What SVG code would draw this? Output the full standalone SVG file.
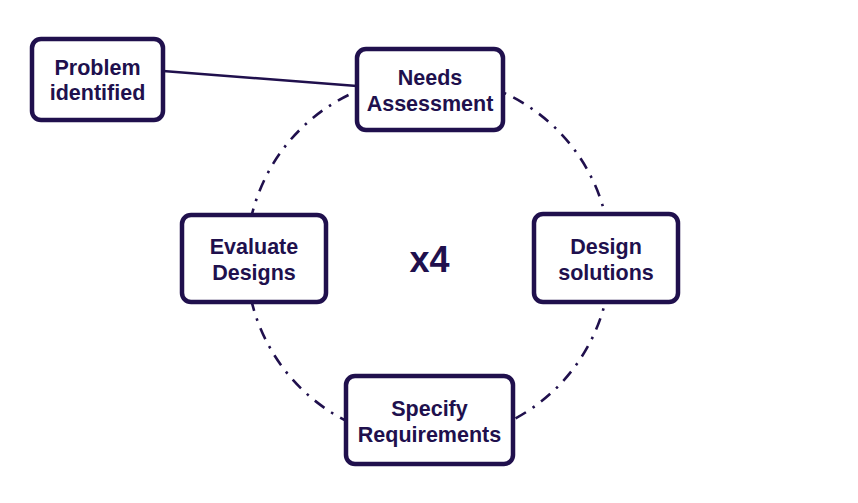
<svg xmlns="http://www.w3.org/2000/svg" width="858" height="503" viewBox="0 0 858 503">
<style>
.box{fill:#ffffff;stroke:#20104d;stroke-width:4.5}
.lbl{font-family:"Liberation Sans",Arial,sans-serif;font-weight:bold;font-size:21.5px;fill:#20104d;text-anchor:middle}
.cyc{fill:none;stroke:#20104d;stroke-width:2.6;stroke-dasharray:12 8 2.5 8}
.link{fill:none;stroke:#20104d;stroke-width:2.5}
</style>
<rect width="858" height="503" fill="#ffffff"/>
<g id="connectors">
<circle class="cyc" cx="428.5" cy="258.5" r="182"/>
<line class="link" x1="163" y1="71" x2="357" y2="86"/>
</g>
<g id="problem">
<rect class="box" x="32" y="39" width="131" height="81" rx="9"/>
<text class="lbl" x="97.5" y="75">Problem</text>
<text class="lbl" x="97.5" y="100">identified</text>
</g>
<g id="needs">
<rect class="box" x="357" y="49" width="146" height="81" rx="9"/>
<text class="lbl" x="430" y="85">Needs</text>
<text class="lbl" x="430" y="111">Assessment</text>
</g>
<g id="design">
<rect class="box" x="534" y="214" width="144" height="88" rx="9"/>
<text class="lbl" x="606" y="254">Design</text>
<text class="lbl" x="606" y="280">solutions</text>
</g>
<g id="specify">
<rect class="box" x="346" y="376" width="167" height="88" rx="9"/>
<text class="lbl" x="429.5" y="416">Specify</text>
<text class="lbl" x="429.5" y="442">Requirements</text>
</g>
<g id="evaluate">
<rect class="box" x="182" y="215" width="144" height="87" rx="9"/>
<text class="lbl" x="254" y="254">Evaluate</text>
<text class="lbl" x="254" y="280">Designs</text>
</g>
<g id="center">
<text class="lbl" x="429.5" y="272" style="font-size:36px">x4</text>
</g>
</svg>
